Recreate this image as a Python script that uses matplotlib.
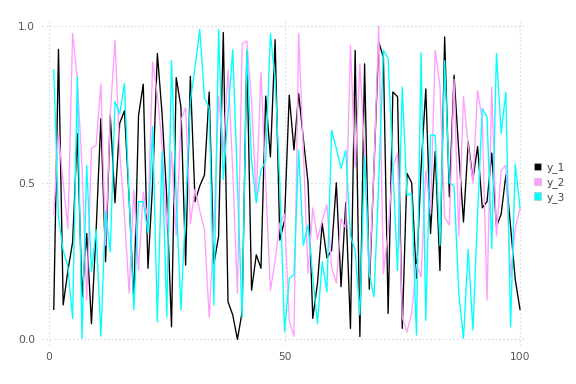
import matplotlib
matplotlib.use("Agg")
import matplotlib.pyplot as plt
from matplotlib.patches import Patch

x = list(range(1, 101))

y_1 = [0.096, 0.926, 0.11, 0.22, 0.31, 0.657, 0.136, 0.338, 0.05, 0.35,
       0.705, 0.248, 0.716, 0.436, 0.69, 0.73, 0.45, 0.12, 0.715, 0.815,
       0.227, 0.5, 0.913, 0.72, 0.45, 0.04, 0.836, 0.743, 0.237, 0.84,
       0.44, 0.49, 0.525, 0.79, 0.24, 0.33, 0.98, 0.12, 0.078, 0.0,
       0.088, 0.92, 0.157, 0.27, 0.227, 0.777, 0.583, 0.957, 0.317, 0.38,
       0.78, 0.605, 0.785, 0.64, 0.5, 0.067, 0.18, 0.37, 0.26, 0.285,
       0.5, 0.168, 0.436, 0.035, 0.923, 0.009, 0.88, 0.16, 0.55, 0.95,
       0.9, 0.083, 0.79, 0.775, 0.035, 0.53, 0.5, 0.195, 0.55, 0.8,
       0.338, 0.6, 0.22, 0.966, 0.455, 0.844, 0.6, 0.375, 0.63, 0.51,
       0.616, 0.42, 0.44, 0.595, 0.36, 0.4, 0.525, 0.36, 0.19, 0.096]

y_2 = [0.40, 0.657, 0.5, 0.354, 0.977, 0.83, 0.55, 0.126, 0.61, 0.62,
       0.817, 0.3, 0.72, 0.955, 0.6, 0.4, 0.147, 0.477, 0.22, 0.47,
       0.38, 0.886, 0.78, 0.62, 0.35, 0.6, 0.33, 0.7, 0.74, 0.37,
       0.48, 0.41, 0.35, 0.07, 0.35, 0.775, 0.6, 0.86, 0.54, 0.147,
       0.945, 0.953, 0.76, 0.45, 0.854, 0.5, 0.157, 0.25, 0.37, 0.4,
       0.06, 0.01, 0.977, 0.6, 0.21, 0.42, 0.32, 0.38, 0.43, 0.23,
       0.18, 0.386, 0.354, 0.94, 0.55, 0.88, 0.6, 0.2, 0.55, 1.0,
       0.21, 0.35, 0.55, 0.595, 0.07, 0.024, 0.083, 0.24, 0.2, 0.54,
       0.4, 0.923, 0.81, 0.39, 0.365, 0.83, 0.33, 0.775, 0.62, 0.5,
       0.795, 0.7, 0.125, 0.806, 0.33, 0.54, 0.556, 0.2, 0.354, 0.418]

y_3 = [0.86, 0.39, 0.285, 0.23, 0.067, 0.84, 0.003, 0.556, 0.216, 0.35,
       0.01, 0.41, 0.28, 0.76, 0.72, 0.817, 0.45, 0.094, 0.44, 0.44,
       0.34, 0.68, 0.056, 0.6, 0.072, 0.89, 0.45, 0.094, 0.42, 0.76,
       0.87, 0.99, 0.77, 0.74, 0.11, 0.99, 0.51, 0.72, 0.925, 0.5,
       0.07, 0.925, 0.57, 0.436, 0.54, 0.57, 0.977, 0.83, 0.5, 0.024,
       0.195, 0.205, 0.604, 0.3, 0.365, 0.2, 0.05, 0.248, 0.152, 0.668,
       0.61, 0.546, 0.604, 0.33, 0.285, 0.078, 0.583, 0.21, 0.136, 0.5,
       0.923, 0.897, 0.55, 0.22, 0.806, 0.46, 0.466, 0.014, 0.915, 0.06,
       0.652, 0.652, 0.3, 0.89, 0.5, 0.49, 0.147, 0.003, 0.287, 0.03,
       0.4, 0.737, 0.71, 0.29, 0.913, 0.657, 0.79, 0.04, 0.56, 0.42]

labels = ["y_1", "y_2", "y_3"]
colors = ["#000000", "#ff9eff", "#00ffff"]
x_ticks = [0, 50, 100]
y_ticks = [0.0, 0.5, 1.0]
y_ticklabels = ["0.0", "0.5", "1.0"]

fig = plt.figure(figsize=(6, 4), dpi=96)
ax = fig.add_axes([42/576, 39/384, 482/576, 325/384])

for ys, c, lab in zip([y_1, y_2, y_3], colors, labels):
    ax.plot(x, ys, color=c, lw=1.0, label=lab)

ax.set_xlim(-1.5, 100.85)
ax.set_ylim(-0.018, 1.02)
ax.set_xticks(x_ticks)
ax.set_yticks(y_ticks)
ax.set_yticklabels(y_ticklabels)
for s in ax.spines.values():
    s.set_visible(False)
ax.tick_params(length=0, labelsize=8, labelcolor="#555555", pad=5)
ax.grid(True, color="#d6d6e0", linestyle=(0, (1.2, 2.0)), linewidth=0.9)
ax.set_axisbelow(True)

handles = [Patch(facecolor=c, edgecolor="#bbbbbb", linewidth=0.4) for c in colors]
leg = ax.legend(handles, labels, loc="center left", bbox_to_anchor=(1.005, 0.5),
                frameon=False, fontsize=8, handlelength=0.7, handleheight=0.7,
                handletextpad=0.5, labelspacing=0.35, borderaxespad=0.3)
for t in leg.get_texts():
    t.set_color("#444444")

fig.savefig("out.png", dpi=96)
